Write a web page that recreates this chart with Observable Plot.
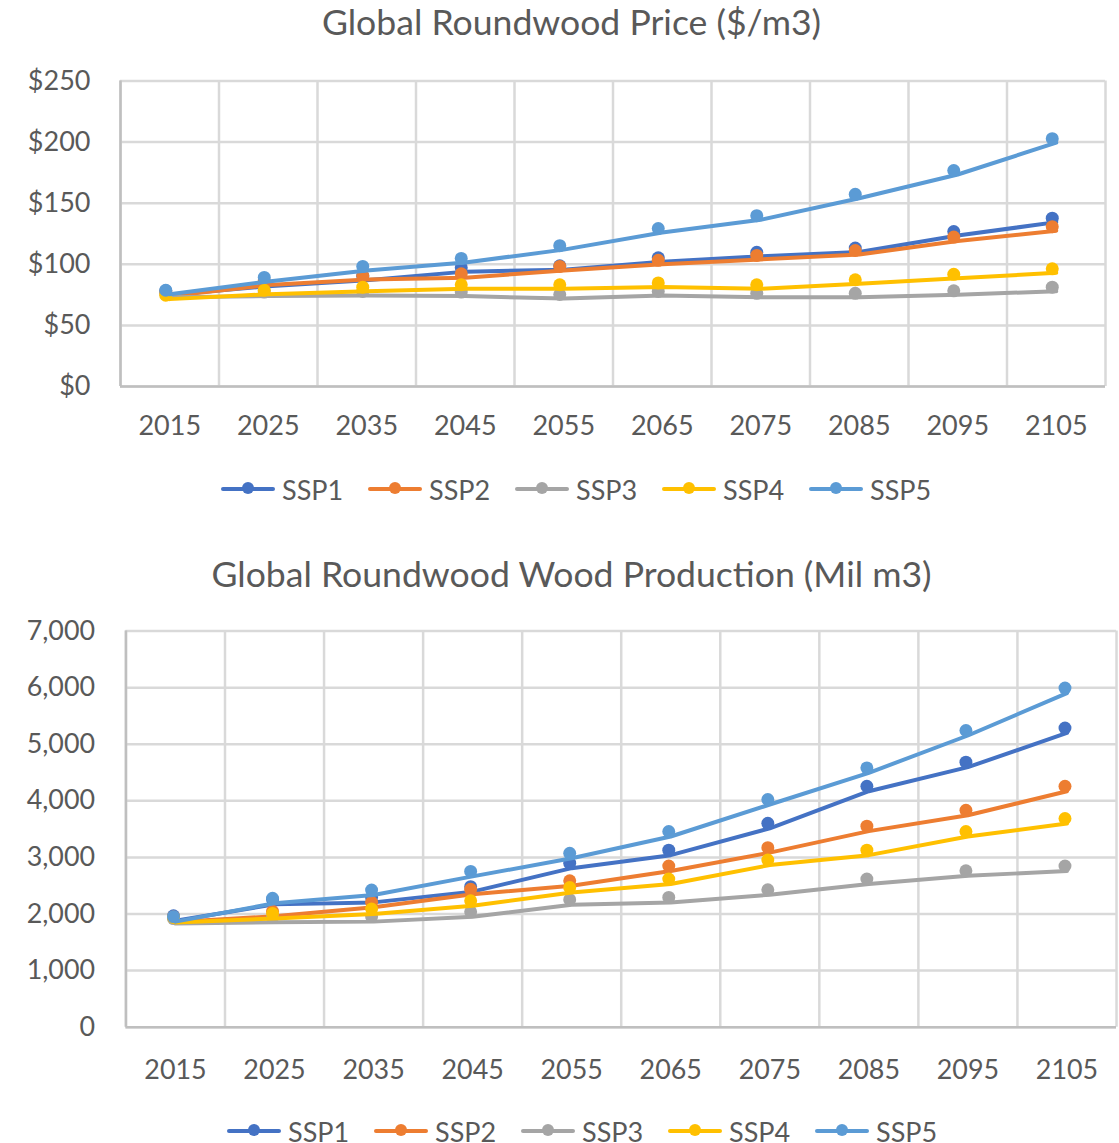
<!DOCTYPE html>
<html>
<head>
<meta charset="utf-8">
<script src="https://cdn.jsdelivr.net/npm/d3@7"></script>
<script src="https://cdn.jsdelivr.net/npm/@observablehq/plot@0.6"></script>
<style>
  html, body { margin: 0; padding: 0; background: #fff; overflow: hidden; }
  #page { position: relative; width: 1119px; height: 1143px; font-family: Lato, sans-serif; color: #595959; }
  .title { position: absolute; left: 0; width: 1119px; text-align: center; font-size: 35.6px; line-height: 40px; white-space: nowrap; }
  .chart { position: absolute; left: 0; }
  .legend { position: absolute; display: flex; align-items: center; height: 30px; font-size: 27px; }
  .legend .item { display: flex; align-items: center; width: 147px; }
  .legend svg { margin-right: 7px; }
</style>
</head>
<body>
<div id="page"></div>
<script>
// Decades shown on the category axis
const years = [2015, 2025, 2035, 2045, 2055, 2065, 2075, 2085, 2095, 2105];

// Scenario names and their colours
const scenarios = ["SSP1", "SSP2", "SSP3", "SSP4", "SSP5"];
const colors = ["#4472C4", "#ED7D31", "#A5A5A5", "#FFC000", "#5B9BD5"];

// Global roundwood price, $/m3
const priceSSP1 = [75, 82, 87, 94, 95.5, 102, 106.5, 110, 123.5, 134.5];
const priceSSP2 = [74, 83, 87.5, 89, 95, 100, 104, 108, 119, 127.5];
const priceSSP3 = [73, 74, 74.5, 74, 72, 74.5, 73, 73, 75, 78];
const priceSSP4 = [71.5, 75.5, 78, 80, 80, 81.5, 80, 84, 88.5, 93];
const priceSSP5 = [75.5, 86, 95, 101.5, 112, 126, 136.5, 154, 173.5, 199.5];

// Global roundwood production, million m3
const prodSSP1 = [1880, 2170, 2205, 2395, 2810, 3040, 3515, 4170, 4595, 5200];
const prodSSP2 = [1860, 1960, 2120, 2350, 2500, 2760, 3085, 3465, 3745, 4170];
const prodSSP3 = [1830, 1855, 1865, 1950, 2165, 2205, 2340, 2530, 2675, 2760];
const prodSSP4 = [1850, 1920, 2000, 2145, 2380, 2530, 2865, 3040, 3370, 3600];
const prodSSP5 = [1865, 2190, 2335, 2665, 2985, 3370, 3935, 4495, 5155, 5905];

// Axis ticks
const priceTicks = [0, 50, 100, 150, 200, 250];
const prodTicks = [0, 1000, 2000, 3000, 4000, 5000, 6000, 7000];
const decadeEdges = [2010, 2020, 2030, 2040, 2050, 2060, 2070, 2080, 2090, 2100, 2110];

const page = document.getElementById("page");

function addTitle(text, top) {
  const el = document.createElement("div");
  el.className = "title";
  el.style.top = top + "px";
  el.style.left = "12px";
  el.textContent = text;
  page.appendChild(el);
}

function addLegend(left, top) {
  const lg = document.createElement("div");
  lg.className = "legend";
  lg.style.left = left + "px";
  lg.style.top = top + "px";
  scenarios.forEach((name, i) => {
    const item = document.createElement("div");
    item.className = "item";
    item.innerHTML =
      `<svg width="54" height="16"><line x1="2" x2="52" y1="8" y2="8" stroke="${colors[i]}" stroke-width="4" stroke-linecap="round"/>` +
      `<circle cx="27" cy="7" r="6" fill="${colors[i]}"/></svg><span>${name}</span>`;
    lg.appendChild(item);
  });
  page.appendChild(lg);
}

function addChart(opts) {
  const {series, yDomain, yTicks, yFormat, top, width, height, margins, yPad, xPad, dotDx, dotDy} = opts;
  const marks = [
    Plot.ruleY(yTicks, {stroke: "#D9D9D9", strokeWidth: 2.5}),
    Plot.ruleX(decadeEdges, {stroke: "#D9D9D9", strokeWidth: 2.5}),
    Plot.ruleX([2010], {stroke: "#BFBFBF", strokeWidth: 2.5}),
    Plot.ruleY([0], {stroke: "#BFBFBF", strokeWidth: 2.5}),
    Plot.axisY(yTicks, {tickSize: 0, tickPadding: yPad, tickFormat: yFormat, label: null}),
    Plot.axisX(years, {tickSize: 0, tickPadding: xPad, tickFormat: d => String(d), label: null})
  ];
  series.forEach((values, s) => {
    const rows = years.map((year, i) => ({year, value: values[i]}));
    marks.push(Plot.line(rows, {x: "year", y: "value", stroke: colors[s], strokeWidth: 4}));
    marks.push(Plot.dot(rows, {x: "year", y: "value", r: 6.5, fill: colors[s], stroke: "none", dx: dotDx, dy: dotDy}));
  });
  const svg = Plot.plot({
    width, height,
    marginTop: margins[0], marginRight: margins[1], marginBottom: margins[2], marginLeft: margins[3],
    x: {domain: [2010, 2110], label: null},
    y: {domain: yDomain, label: null},
    style: {fontFamily: "Lato, sans-serif", fontSize: "27px", color: "#595959", background: "transparent", overflow: "visible"},
    marks
  });
  svg.classList.add("chart");
  svg.style.top = top + "px";
  page.appendChild(svg);
}

// Price chart
addTitle("Global Roundwood Price ($/m3)", 2);
addChart({
  series: [priceSSP1, priceSSP2, priceSSP3, priceSSP4, priceSSP5],
  yDomain: [0, 250], yTicks: priceTicks, yFormat: d => "$" + d,
  top: 40, width: 1119, height: 420, margins: [40.5, 14, 74, 120],
  yPad: 30, xPad: 29, dotDx: -4, dotDy: -4
});
addLegend(221, 474);

// Production chart
addTitle("Global Roundwood Wood Production (Mil m3)", 554);
addChart({
  series: [prodSSP1, prodSSP2, prodSSP3, prodSSP4, prodSSP5],
  yDomain: [0, 7000], yTicks: prodTicks, yFormat: d3.format(","),
  top: 590, width: 1124, height: 553, margins: [40.8, 3, 114.4, 126],
  yPad: 31, xPad: 33, dotDx: -2, dotDy: -5
});
addLegend(227, 1116);
</script>
</body>
</html>
